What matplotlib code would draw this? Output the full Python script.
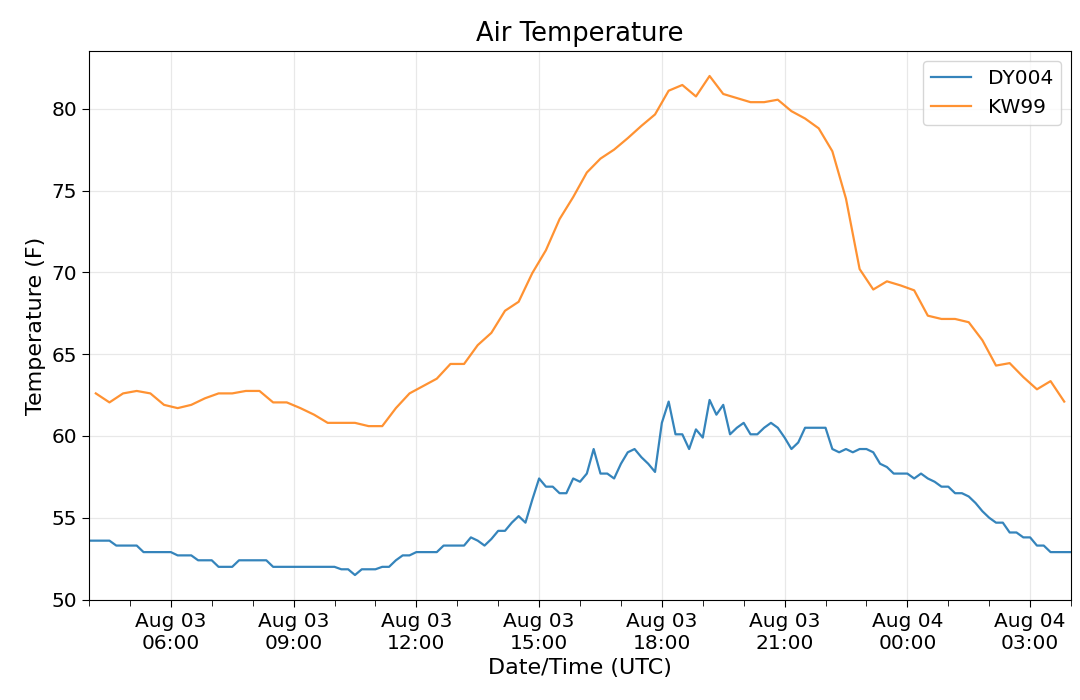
import matplotlib
matplotlib.use("Agg")
import matplotlib.pyplot as plt
import matplotlib.dates as mdates
import pandas as pd
import numpy as np

# DY004: 10-minute data, 2019-08-03 04:00 -> 2019-08-04 04:00 UTC
dy004_start = "2019-08-03 04:00"
dy004_freq = "10min"
dy004_temp = (
    [53.6] * 4 + [53.3] * 4 + [52.9] * 5 + [52.7] * 3 + [52.4] * 3 + [52.0] * 3 +
    [52.4] * 5 + [52.0] * 10 +
    [51.85, 51.85, 51.5, 51.85, 51.85, 51.85, 52.0, 52.0, 52.4, 52.7, 52.7,
     52.9, 52.9, 52.9, 52.9, 53.3, 53.3, 53.3, 53.3, 53.8, 53.6, 53.3, 53.7,
     54.2, 54.2, 54.7, 55.1, 54.7, 56.1, 57.4, 56.9, 56.9, 56.5, 56.5, 57.4,
     57.2, 57.7, 59.2, 57.7, 57.7, 57.4, 58.3, 59.0, 59.2, 58.7, 58.3, 57.8,
     60.8, 62.1, 60.1, 60.1, 59.2, 60.4, 59.9, 62.2, 61.3, 61.9, 60.1, 60.5,
     60.8, 60.1, 60.1, 60.5, 60.8, 60.5, 59.9, 59.2, 59.6, 60.5, 60.5, 60.5,
     60.5, 59.2, 59.0, 59.2, 59.0, 59.2, 59.2, 59.0, 58.3, 58.1, 57.7, 57.7,
     57.7, 57.4, 57.7, 57.4, 57.2, 56.9, 56.9, 56.5, 56.5, 56.3, 55.9, 55.4,
     55.0, 54.7, 54.7, 54.1, 54.1, 53.8, 53.8, 53.3, 53.3, 52.9, 52.9, 52.9,
     52.9]
)

# KW99: 20-minute data, 04:10 -> 03:50 UTC
kw99_start = "2019-08-03 04:10"
kw99_freq = "20min"
kw99_temp = [
    62.6, 62.05, 62.6, 62.75, 62.6, 61.9, 61.7, 61.9, 62.3, 62.6, 62.6, 62.75,
    62.75, 62.05, 62.05, 61.7, 61.3, 60.8, 60.8, 60.8, 60.6, 60.6, 61.7, 62.6,
    63.05, 63.5, 64.4, 64.4, 65.55, 66.3, 67.65, 68.2, 69.95, 71.35, 73.25, 74.6,
    76.1, 76.95, 77.5, 78.2, 78.95, 79.65, 81.1, 81.45, 80.75, 82.0, 80.9, 80.65,
    80.4, 80.4, 80.55, 79.85, 79.4, 78.8, 77.4, 74.5, 70.2, 68.95, 69.45, 69.2,
    68.9, 67.35, 67.15, 67.15, 66.95, 65.85, 64.3, 64.45, 63.6, 62.85, 63.35, 62.1,
]

series_names = ["DY004", "KW99"]
series_colors = ["#1f77b4", "#ff7f0e"]

dy_times = pd.date_range(dy004_start, periods=len(dy004_temp), freq=dy004_freq)
kw_times = pd.date_range(kw99_start, periods=len(kw99_temp), freq=kw99_freq)

fig = plt.figure(figsize=(10.8, 7.0), dpi=100)
ax = fig.add_axes([0.0824, 0.1429, 0.9093, 0.7842])

ax.plot(dy_times, dy004_temp, color=series_colors[0], lw=1.6, alpha=0.9,
        label=series_names[0])
ax.plot(kw_times, kw99_temp, color=series_colors[1], lw=1.6, alpha=0.85,
        label=series_names[1])

ax.set_xlim(dy_times[0], dy_times[-1])
ax.margins(y=0.05)

ax.xaxis.set_major_locator(mdates.HourLocator(byhour=range(0, 24, 3)))
ax.xaxis.set_minor_locator(mdates.HourLocator())
ax.xaxis.set_major_formatter(mdates.DateFormatter("%b %d\n%H:%M"))
ax.set_yticks([50, 55, 60, 65, 70, 75, 80])

ax.grid(True, which="major", color="#e8e8e8", lw=0.9)
ax.set_axisbelow(True)
ax.tick_params(axis="both", which="major", labelsize=14.5, length=5)
ax.tick_params(axis="x", which="minor", length=4)
for lbl in ax.get_xticklabels():
    lbl.set_ha("center")

ax.set_title("Air Temperature", fontsize=18.5, pad=7)
ax.set_xlabel("Date/Time (UTC)", fontsize=16)
ax.set_ylabel("Temperature (F)", fontsize=16)
ax.legend(loc="upper right", fontsize=14.5)

fig.savefig("out.png", dpi=100)
